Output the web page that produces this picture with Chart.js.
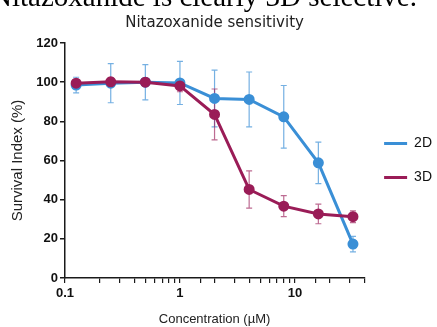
<!DOCTYPE html>
<html>
<head>
<meta charset="utf-8">
<script src="https://cdn.jsdelivr.net/npm/chart.js@4.4.1/dist/chart.umd.min.js"></script>
<style>
  body { margin: 0; background: #fff; }
  #wrap { position: relative; width: 437px; height: 327px; overflow: hidden; }
  #headline {
    position: absolute; left: -9px; top: -18px; white-space: nowrap;
    font-family: "Liberation Serif", "Times New Roman", serif;
    font-size: 29px; line-height: 29px; color: #000; z-index: 2;
  }
  canvas { position: absolute; left: 0; top: 0; }
</style>
</head>
<body>
<div id="wrap">
  <div id="headline">Nitazoxanide is clearly 3D selective.</div>
  <canvas id="myChart" width="437" height="327"></canvas>
</div>
<script>
// concentrations in uM (doubling dilution)
const concentrations = [0.125, 0.25, 0.5, 1, 2, 4, 8, 16, 32];
const survival2D = [98.5, 99.5, 100, 99.6, 91.7, 91.2, 82.3, 58.8, 17.3];
const error2D    = [4, 10, 9, 11, 14.5, 14, 16, 10.6, 4];
const survival3D = [99.5, 100.2, 100, 98.1, 83.5, 45.2, 36.7, 32.7, 31.3];
const error3D    = [2, 2, 2, 3, 13, 9.5, 5.4, 5, 3];
const seriesLabels = ['2D', '3D'];
const majorTicks = [0.1, 1, 10];

function toPoints(xs, ys) {
	let pts = [];
	for (var i = 0; i < xs.length; i++)
		pts.push({ x: xs[i], y: ys[i] });
	return pts;
}

// draws the SD bars under the lines, through the chart scales
const errorBars = {
	id: 'errorBars',
	beforeDatasetsDraw(chart) {
		const ctx = chart.ctx;
		const xs = chart.scales.x, ys = chart.scales.y;
		chart.data.datasets.forEach((ds, i) => {
			if (!chart.isDatasetVisible(i)) return;
			ctx.save();
			ctx.strokeStyle = ds.errorColor;
			ctx.lineWidth = 1.2;
			ds.data.forEach((p, j) => {
				const px = xs.getPixelForValue(p.x);
				const top = ys.getPixelForValue(p.y + ds.errors[j]);
				const bot = ys.getPixelForValue(p.y - ds.errors[j]);
				ctx.beginPath();
				ctx.moveTo(px, top); ctx.lineTo(px, bot);
				ctx.moveTo(px - 3, top); ctx.lineTo(px + 3, top);
				ctx.moveTo(px - 3, bot); ctx.lineTo(px + 3, bot);
				ctx.stroke();
			});
			ctx.restore();
		});
	}
};

const blue = '#3a8fd6';
const maroon = '#9a1c57';
const tickFont = { family: 'Liberation Sans, Arial, sans-serif', size: 13, weight: 'bold' };
const axisColor = '#1a1a1a';

const data = {
	datasets: [{
		label: seriesLabels[0],
		data: toPoints(concentrations, survival2D),
		errors: error2D,
		errorColor: 'rgba(58,143,214,0.7)',
		borderColor: blue,
		backgroundColor: blue,
		borderWidth: 3,
		pointRadius: 4,
		tension: 0,
		order: 1
	}, {
		label: seriesLabels[1],
		data: toPoints(concentrations, survival3D),
		errors: error3D,
		errorColor: 'rgba(154,28,87,0.65)',
		borderColor: maroon,
		backgroundColor: maroon,
		borderWidth: 3,
		pointRadius: 4,
		tension: 0,
		order: 0
	}]
};

const config = {
	type: 'line',
	data: data,
	options: {
		responsive: false,
		animation: false,
		layout: { padding: { right: -5 } },
		plugins: {
			tooltip: { enabled: false },
			title: {
				display: true,
				fullSize: false,
				text: 'Nitazoxanide sensitivity',
				color: '#222',
				font: { family: 'DejaVu Sans, Verdana, sans-serif', size: 15, weight: 'normal' },
				padding: { top: 14, bottom: 11 }
			},
			legend: {
				position: 'right',
				fullSize: false,
				labels: {
					usePointStyle: true,
					pointStyle: 'line',
					pointStyleWidth: 23,
					padding: 20,
					color: '#111',
					font: { family: 'Liberation Sans, Arial, sans-serif', size: 14 },
					sort: (a, b) => a.datasetIndex - b.datasetIndex
				}
			}
		},
		scales: {
			x: {
				type: 'logarithmic',
				min: 0.1,
				max: 40,
				afterFit(s) { s.height = 49; },
				border: { color: axisColor, width: 1.5 },
				grid: { drawOnChartArea: false, tickLength: 5, color: axisColor, lineWidth: 1.2 },
				ticks: {
					autoSkip: false,
					maxRotation: 0,
					padding: 3,
					color: '#111',
					font: tickFont,
					callback: (v) => majorTicks.some(m => Math.abs(m - v) < 1e-9) ? String(v) : ''
				},
				title: {
					display: true,
					text: 'Concentration (µM)',
					color: '#222',
					font: { family: 'Liberation Sans, Arial, sans-serif', size: 13 },
					padding: { top: 0, bottom: 0 }
				}
			},
			y: {
				min: 0,
				max: 120,
				afterFit(s) { s.width = 65; },
				border: { color: axisColor, width: 1.5 },
				grid: { drawOnChartArea: false, tickLength: 5, color: axisColor, lineWidth: 1.5 },
				ticks: { stepSize: 20, padding: 2, color: '#111', font: tickFont },
				title: {
					display: true,
					text: 'Survival Index (%)',
					color: '#222',
					font: { family: 'Liberation Sans, Arial, sans-serif', size: 15 },
					padding: { top: 9, bottom: 0 }
				}
			}
		}
	},
	plugins: [errorBars]
};

const myChart = new Chart(document.getElementById('myChart'), config);
</script>
</body>
</html>
